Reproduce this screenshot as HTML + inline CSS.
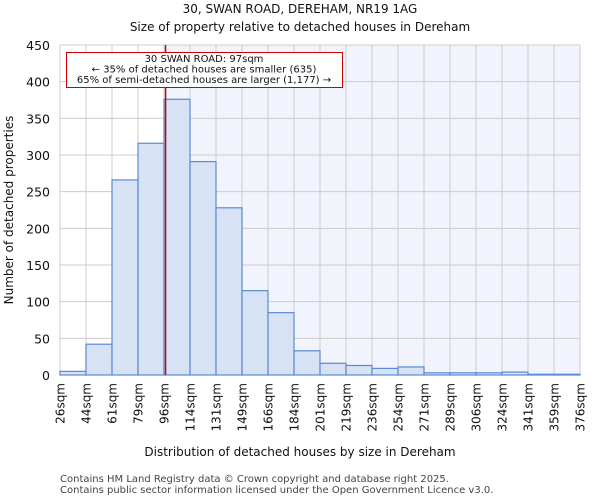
<!DOCTYPE html>
<html><head><meta charset="utf-8"><style>
body{margin:0;background:#fff;font-family:"DejaVu Sans","Liberation Sans",sans-serif}
</style></head><body>
<svg width="600" height="500" xmlns="http://www.w3.org/2000/svg" id="chart" font-family="DejaVu Sans, Liberation Sans, sans-serif">
<text x="300" y="13" text-anchor="middle" font-size="12" fill="#111">30, SWAN ROAD, DEREHAM, NR19 1AG</text>
<text x="300" y="31" text-anchor="middle" font-size="12" fill="#111">Size of property relative to detached houses in Dereham</text>
<g id="plot"></g>
<text x="300" y="456" text-anchor="middle" font-size="12" fill="#111">Distribution of detached houses by size in Dereham</text>
<text transform="translate(13,210) rotate(-90)" text-anchor="middle" font-size="12" fill="#111">Number of detached properties</text>
<text x="60" y="482" font-size="10" fill="#444">Contains HM Land Registry data © Crown copyright and database right 2025.</text>
<text x="60" y="493" font-size="10" fill="#444">Contains public sector information licensed under the Open Government Licence v3.0.</text>
</svg>
<script>
const binLabels=["26sqm","44sqm","61sqm","79sqm","96sqm","114sqm","131sqm","149sqm","166sqm","184sqm","201sqm","219sqm","236sqm","254sqm","271sqm","289sqm","306sqm","324sqm","341sqm","359sqm","376sqm"];
const counts=[5,42,266,316,376,291,228,115,85,33,16,13,9,11,3,3,3,4,1,1];
const yTicks=[0,50,100,150,200,250,300,350,400,450];
const markerBin=4.06;
const NS="http://www.w3.org/2000/svg";
const L=60,R=580,T=45,B=375,yMax=450;
const n=counts.length,bw=(R-L)/n;
const xs=i=>L+i*bw;
const ys=v=>B-(v/yMax)*(B-T);
const g=document.getElementById('plot');
function mk(tag,attrs){const e=document.createElementNS(NS,tag);for(const k in attrs)e.setAttribute(k,attrs[k]);g.appendChild(e);return e;}
const bg=mk('rect',{x:L,y:T,width:R-L,height:B-T,fill:'#fff'});


const mx=xs(markerBin);
const bg2=mk('rect',{x:mx,y:T,width:R-mx,height:B-T,fill:'#f1f4fc'});


yTicks.forEach(t=>{
  const l=mk('line',{x1:L,x2:R,y1:ys(t),y2:ys(t),stroke:'#cccccc','stroke-width':1});
  
  
  const tx=mk('text',{x:L-10,y:ys(t)+5,'text-anchor':'end','font-size':12.5,fill:'#111'});
  tx.textContent=t;
  
  
});
binLabels.forEach((lab,i)=>{
  const x=xs(i);
  const l=mk('line',{x1:x,x2:x,y1:T,y2:B,stroke:'#cccccc','stroke-width':1});
  
  
  const tx=mk('text',{transform:`translate(${x+4.5},${B+8}) rotate(-90)`,'text-anchor':'end','font-size':12,fill:'#111'});
  tx.textContent=lab;
  
  
});
counts.forEach((c,i)=>{
  const r=mk('rect',{x:xs(i),y:ys(c),width:bw,height:B-ys(c),fill:'#d7e2f4',stroke:'#5a8ad4','stroke-width':1.2});
  
  
});
const ml=mk('line',{x1:mx,x2:mx,y1:T,y2:B,stroke:'#cc0000','stroke-width':1.5});


const box=mk('rect',{x:66.5,y:52.5,width:276,height:35,fill:'#fff',stroke:'#cc0000','stroke-width':1});


["30 SWAN ROAD: 97sqm","← 35% of detached houses are smaller (635)","65% of semi-detached houses are larger (1,177) →"].forEach((s,i)=>{
  const t=mk('text',{x:204,y:62+i*10.5,'text-anchor':'middle','font-size':10,fill:'#111'});
  t.textContent=s;
  
  
});
</script>
</body></html>
